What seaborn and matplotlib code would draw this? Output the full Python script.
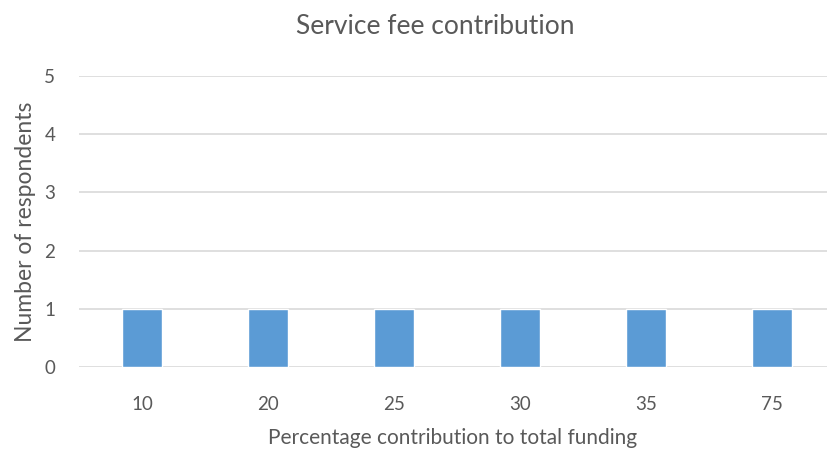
import matplotlib
matplotlib.use("Agg")
import matplotlib.pyplot as plt
import seaborn as sns
import pandas as pd

categories = ["10", "20", "25", "30", "35", "75"]
respondents = [1, 1, 1, 1, 1, 1]
yticks = [0, 1, 2, 3, 4, 5]

sns.set_theme(style="white")
plt.rcParams['font.family'] = ['Lato', 'DejaVu Sans']

fig = plt.figure(figsize=(8.27, 4.54), dpi=100)
ax = fig.add_axes([79/827, 87/454, 748/827, 291/454])

df = pd.DataFrame({"cat": categories, "val": respondents})
sns.barplot(data=df, x="cat", y="val", color="#5B9BD5", width=0.314,
            saturation=1, ax=ax, zorder=3)

ax.set_ylim(0, 5)
ax.set_xlim(-0.5, 5.437)
ax.set_yticks(yticks)
ax.yaxis.grid(True, color="#D9D9D9", linewidth=1.2, zorder=0)
ax.xaxis.grid(False)
for s in ax.spines.values():
    s.set_visible(False)
ax.tick_params(axis="both", length=0, labelsize=13.5, colors="#595959")
ax.tick_params(axis="x", pad=21)
ax.tick_params(axis="y", pad=17)
ax.set_xlabel("Percentage contribution to total funding", fontsize=15,
              color="#595959", labelpad=11)
ax.set_ylabel("Number of respondents", fontsize=16.5, color="#595959", labelpad=6)
fig.text(435/827, 1 - 27/454, "Service fee contribution", ha="center", va="center",
         fontsize=19, color="#595959")

fig.savefig("out.png", dpi=100)
